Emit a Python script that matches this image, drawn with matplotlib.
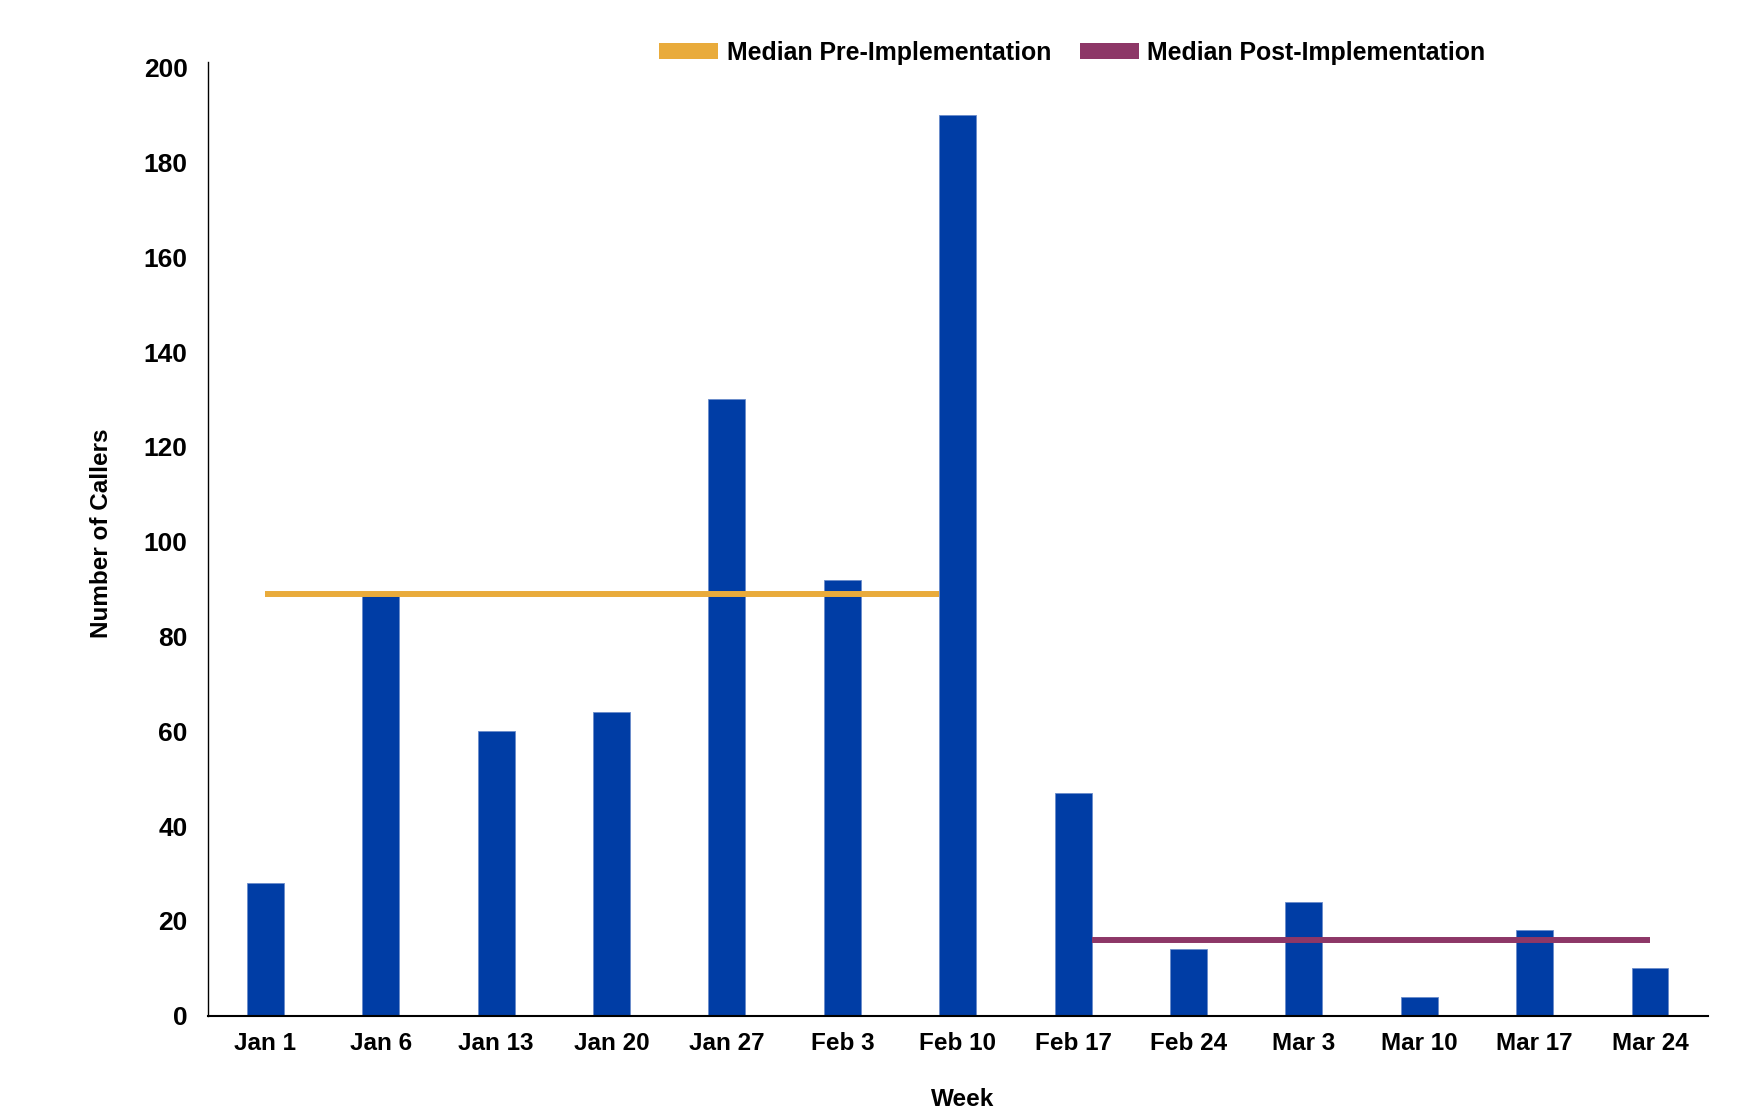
import matplotlib
matplotlib.use("Agg")
import matplotlib.pyplot as plt
from matplotlib.patches import Patch
import numpy as np

weeks = ["Jan 1", "Jan 6", "Jan 13", "Jan 20", "Jan 27", "Feb 3", "Feb 10",
         "Feb 17", "Feb 24", "Mar 3", "Mar 10", "Mar 17", "Mar 24"]
callers = [28, 89, 60, 64, 130, 92, 190, 47, 14, 24, 4, 18, 10]
pre_count = 7  # first 7 weeks are pre-implementation
median_pre = float(np.median(callers[:pre_count]))
median_post = float(np.median(callers[pre_count:]))
y_ticks = list(range(0, 201, 20))

BAR_COLOR = "#003DA5"
PRE_COLOR = "#E9AB3B"
POST_COLOR = "#8D3767"
FONT = "Liberation Sans"
FS = 17.5

W, H, DPI = 1744, 1119, 100
fig = plt.figure(figsize=(W / DPI, H / DPI), dpi=DPI)
ax_left, ax_right, ax_bottom, ax_top = 207.7, 1707.7, 1015.7, 62
ax = fig.add_axes([ax_left / W, 1 - ax_bottom / H,
                   (ax_right - ax_left) / W, (ax_bottom - ax_top) / H])

x = np.arange(len(weeks))
bw = 0.32
ax.bar(x, callers, width=bw, color=BAR_COLOR, edgecolor="#6A8CCB",
       linewidth=0.6, zorder=2)

ax.plot([x[0], x[pre_count - 1] - bw / 2], [median_pre, median_pre],
        color=PRE_COLOR, lw=4.3, solid_capstyle="butt", zorder=3)
ax.plot([x[pre_count] + bw / 2, x[-1]], [median_post, median_post],
        color=POST_COLOR, lw=4.3, solid_capstyle="butt", zorder=3)

ax.set_xlim(-0.5, 12.5)
ax.set_ylim(0, 201.2)
ax.set_yticks(y_ticks)
ax.set_yticklabels([str(t) for t in y_ticks])
ax.set_xticks(x)
ax.set_xticklabels(weeks)
ax.tick_params(axis="both", length=0)
ax.tick_params(axis="x", labelsize=FS, pad=12)
ax.tick_params(axis="y", labelsize=19, pad=14.4)
for lab in ax.get_xticklabels() + ax.get_yticklabels():
    lab.set_fontfamily(FONT)
    lab.set_fontweight("bold")

for s in ["top", "right"]:
    ax.spines[s].set_visible(False)
ax.spines["left"].set_linewidth(1.0)
ax.spines["bottom"].set_linewidth(1.5)

fig.text(101.7 / W, 1 - 533 / H, "Number of Callers", rotation=90,
         ha="center", va="center", fontsize=FS, fontweight="bold", family=FONT)
fig.text(963 / W, 1 - 1099 / H, "Week", ha="center", va="center",
         fontsize=FS, fontweight="bold", family=FONT)

handles = [Patch(facecolor=PRE_COLOR, edgecolor="none"),
           Patch(facecolor=POST_COLOR, edgecolor="none")]
fig.legend(handles, ["Median Pre-Implementation", "Median Post-Implementation"],
           loc="center left", bbox_to_anchor=(658.7 / W, 1 - 53 / H),
           ncol=2, frameon=False, borderpad=0, borderaxespad=0,
           handlelength=2.4, handleheight=0.6, handletextpad=0.33,
           columnspacing=1.15, prop={"family": FONT, "weight": "bold", "size": 17.9})

fig.savefig("out.png", dpi=DPI)
